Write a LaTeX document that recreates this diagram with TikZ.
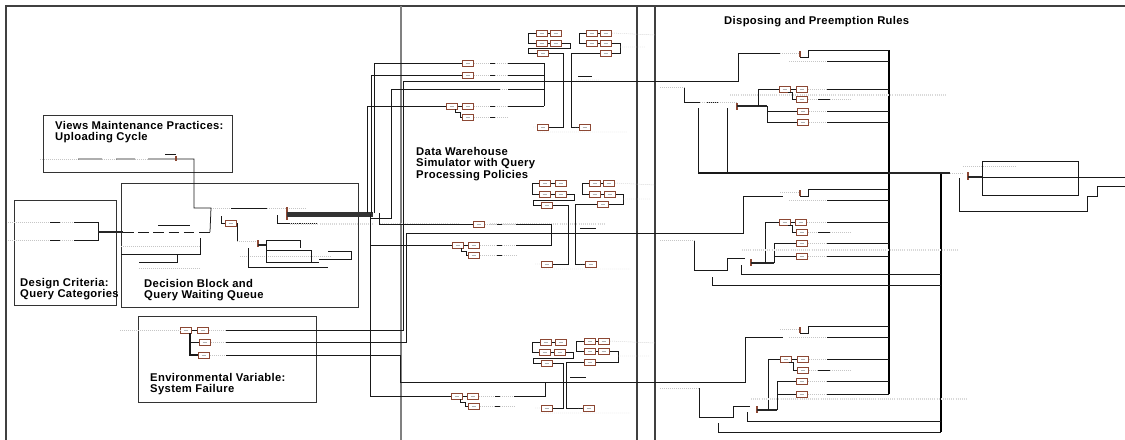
\documentclass[tikz,border=0pt]{standalone}
\usepackage{fontspec}
\setmainfont[LetterSpace=3]{Liberation Sans}
\usepackage{xcolor}
\definecolor{modbrown}{RGB}{140,72,52}
\usetikzlibrary{calc}

\begin{document}
\begin{tikzpicture}[x=0.03cm,y=-0.03cm,
  frame/.style={draw=black!75,line width=0.9pt},
  box/.style={draw=black!80,line width=0.7pt},
  mod/.style={draw=modbrown,fill=white,line width=0.85pt,minimum width=0.32cm,minimum height=0.18cm,inner sep=0pt,
    path picture={\draw[gray!60,line width=0.3pt] ([xshift=-2pt]path picture bounding box.center) -- ([xshift=2pt]path picture bounding box.center);}},
  wire/.style={black!90,line width=0.65pt},
  bus/.style={black,line width=1.6pt},
  heavy/.style={black!85,line width=1.9pt},
  trace/.style={gray!45,line width=0.4pt,dash pattern=on 0.8pt off 0.9pt},
  bars/.style={gray!30,line width=2pt,dash pattern=on 0.6pt off 1.2pt},
  tick/.style={modbrown,line width=0.9pt},
  lab/.style={font=\fontsize{9.6}{9.7}\selectfont\bfseries,align=left,anchor=north west,inner sep=0pt}]
\clip (0,0) rectangle (1125,439);

% frames and areas
\draw[frame] (6,445) -- (6,6) -- (1130,6);
\draw[frame,draw=black!50,line width=1.4pt] (401,6) -- (401,445);
\draw[frame] (637,6) -- (637,445);
\draw[frame] (655,6) -- (655,445);
\draw[box] (43,115) rectangle (232,172);
\draw[box] (14,200) rectangle (116,305);
\draw[box] (121,183) rectangle (358,307);
\draw[box] (138,316) rectangle (316,402);

\node[lab] (viewsLab) at (55,121) {Views Maintenance Practices:\\Uploading Cycle};
\node[lab] (designLab) at (20,278) {Design Criteria:\\Query Categories};
\node[lab] (decisionLab) at (144,279) {Decision Block and\\Query Waiting Queue};
\node[lab] (envLab) at (150,373) {Environmental Variable:\\System Failure};
\node[lab] (dwLab) at (416,147) {Data Warehouse\\Simulator with Query\\Processing Policies};
\node[lab] (dispLab) at (724,16) {Disposing and Preemption Rules};

% modules
\foreach \n/\x/\y in {tA1/542/33,tA2/556/33,tA3/542/43,tA4/556/43,tA5/543/53,
  tB1/592/33,tB2/606/33,tB3/592/43,tB4/606/43,tB5/606/53,tC1/543/127,tC2/585/127,
  tL1/468/63,tL2/468/75,tL3/452/106,tL4/468/106,tL5/468/117,
  mA1/545/183,mA2/561/183,mA3/545/194,mA4/561/194,mA5/547/205,
  mB1/595/183,mB2/609/183,mB3/595/194,mB4/610/194,mB5/603/204,mC1/547/264,mC2/591/264,
  mL1/479/224,mL2/458/245,mL3/474/245,mL4/474/255,
  bA1/546/342,bA2/561/342,bA3/545/352,bA4/560/352,bA5/547/363,
  bB1/590/341,bB2/604/341,bB3/590/351,bB4/604/351,bB5/590/362,bC1/547/408,bC2/589/408,
  bL1/457/396,bL2/473/396,bL3/474/406,
  dT1/785/89,dT2/802/89,dT3/802/99,dT4/803/111,dT5/803/122,
  dM1/785/222,dM2/801/222,dM3/802/232,dM4/802/243,dM5/802/256,
  dB1/786/359,dB2/803/359,dB3/803/370,dB4/802/381,dB5/802/394,
  eV1/186/330,eV2/203/330,eV3/205/342,eV4/204/355,q1/231/223}
  \node[mod] (\n) at (\x,\y) {};

% design criteria and uploading cycle
\draw[trace] (8,222) -- (50,222) (8,240) -- (50,240) (60,222) -- (74,222) (60,240) -- (74,240);
\draw[wire] (50,222) -- (60,222) (74,222) -- (98,222) -- (98,240) -- (74,240) (50,240) -- (60,240);
\draw[heavy] (98,232) -- (123,232);
\draw[wire,dash pattern=on 9pt off 4pt] (123,232) -- (210,232);
\draw[wire] (158,225) -- (190,225);
\draw[trace] (40,159) -- (78,159) (102,159) -- (116,159) (135,159) -- (148,159) (211,208) -- (231,208) (267,208) -- (305,208);
\draw[wire] (78,159) -- (102,159) (116,159) -- (135,159) (148,159) -- (194,159) -- (194,208) -- (211,208) -- (210,232);
\draw[wire] (165,154) -- (176,154) (231,208) -- (267,208);
\draw[tick] (176,156) -- (176,161);

% decision block
\draw[wire] (221,216) -- (221,223) -- (q1.west);
\draw[wire] (q1.east) -- (237,223) -- (237,241);
\draw[trace] (237,241) -- (258,241) (121,246) -- (200,246) (139,268) -- (200,268) (240,256) -- (330,256);
\draw[tick] (258,240) -- (258,247);
\draw[heavy] (258,245) -- (266,245);
\draw[wire] (266,262) -- (266,240) -- (300,240) -- (300,248);
\draw[wire] (266,250) -- (311,250) -- (311,262);
\draw[wire] (266,262) -- (319,262) (319,259) -- (351,259) -- (351,251) -- (328,251);
\draw[wire] (248,248) -- (248,267) -- (328,267);
\draw[wire] (121,254) -- (200,254) -- (200,238);
\draw[wire] (177,254) -- (177,262) -- (139,262);
\draw[tick] (287,207) -- (287,220);
\draw[line width=4.5pt,black!80] (287,214.5) -- (373,214.5);
\draw[wire] (277,215) -- (277,223) -- (318,223);
\draw[bars] (290,224) -- (373,224) (380,224) -- (460,224) (490,224) -- (605,224);

% risers from the bundle
\draw[wire] (374,213) -- (374,63) -- (tL1.west);
\draw[wire] (371,213) -- (371,75) -- (tL2.west);
\draw[wire] (367,213) -- (367,106) -- (tL3.west);
\draw[wire] (370,218) -- (391,218) -- (391,89) -- (500,89);
\draw[wire] (379,213) -- (379,224) -- (mL1.west);
\draw[wire] (370,214) -- (370,396) -- (bL1.west);
\draw[wire] (370,245) -- (mL2.west);

% environmental variable
\draw[trace] (120,330) -- (eV1.west) (eV2.east) -- (226,330) (eV3.east) -- (226,342) (eV4.east) -- (226,355);
\draw[wire] (eV1) -- (eV2);
\draw[wire,line width=0.9pt] (190,333) -- (190,355) -- (eV4.west);
\draw[wire] (190,342) -- (eV3.west);
\draw[wire] (226,330) -- (403,330) -- (403,81) -- (738,81) -- (738,53) -- (780,53);
\draw[wire] (226,342) -- (406,342) -- (406,233) -- (743,233) -- (743,196) -- (783,196);
\draw[wire] (226,355) -- (400,355) -- (400,382) -- (745,382) -- (745,337) -- (783,337);

% simulator, upper part
\draw[wire] (tA1) -- (tA2) (tA3) -- (tA4) (tB1) -- (tB2) (tB3) -- (tB4) (tL3) -- (tL4);
\draw[wire] (tA1.west) -- (528,33) -- (528,43) -- (tA3.west);
\draw[wire] (tA4.east) -- (570,43) -- (570,48) -- (528,48) -- (528,53) -- (tA5.west);
\draw[wire] (tA5.east) -- (563,53) -- (563,127) -- (tC1.east);
\draw[wire] (tB5.west) -- (571,53) -- (571,127) -- (tC2.west);
\draw[wire] (tB1.west) -- (579,33) -- (579,43) -- (tB3.west);
\draw[wire] (tB4.east) -- (620,43) -- (620,53) -- (tB5.east);
\draw[wire] (578,76) -- (592,76);
\draw[wire] (455,109) -- (455,112) -- (460,112) -- (460,117) -- (tL5.west);
\draw[trace] (tB2.east) -- (655,35) (620,47) -- (645,47) (533,127) -- (tC1.west) (575,127) -- (tC2.west) (538,132) -- (627,132) (576,80) -- (600,80);
\foreach \r/\m in {63/tL1,75/tL2,106/tL4,117/tL5} {
  \draw[trace] (\m.east) -- (490,\r) (495,\r) -- (508,\r);
  \draw[wire] (490,\r) -- (495,\r);
}
\draw[trace] (500,89) -- (508,89);
\draw[wire] (508,63) -- (544,63) (508,75) -- (544,75) (508,89) -- (544,89) (508,106) -- (544,106) (544,63) -- (544,106);

% simulator, middle part
\draw[wire] (mA1) -- (mA2) (mA3) -- (mA4) (mB1) -- (mB2) (mB3) -- (mB4) (mL2) -- (mL3);
\draw[wire] (mA1.west) -- (532,183) -- (532,194) -- (mA3.west);
\draw[wire] (mA4.east) -- (574,194) -- (574,200) -- (533,200) -- (533,205) -- (mA5.west);
\draw[wire] (mA5.east) -- (568,205) -- (568,264) -- (mC1.east);
\draw[wire] (mB5.west) -- (575,204) -- (575,264) -- (mC2.west);
\draw[wire] (mB1.west) -- (582,183) -- (582,194) -- (mB3.west);
\draw[wire] (mB4.east) -- (623,194) -- (623,204) -- (mB5.east);
\draw[wire] (580,228) -- (596,228);
\draw[wire] (461,248) -- (461,251) -- (466,251) -- (466,255) -- (mL4.west);
\draw[trace] (mB2.east) -- (655,185) (623,199) -- (650,199) (535,264) -- (mC1.west) (580,264) -- (mC2.west) (540,269) -- (630,269);
\foreach \r/\m in {224/mL1,245/mL3,255/mL4} {
  \draw[trace] (\m.east) -- (497,\r) (502,\r) -- (516,\r);
  \draw[wire] (497,\r) -- (502,\r);
}
\draw[wire] (516,224) -- (551,224) -- (551,245) -- (516,245);

% simulator, lower part
\draw[wire] (bA1) -- (bA2) (bA3) -- (bA4) (bB1) -- (bB2) (bB3) -- (bB4) (bL1) -- (bL2);
\draw[wire] (bA1.west) -- (532,342) -- (532,352) -- (bA3.west);
\draw[wire] (bA4.east) -- (573,352) -- (573,358) -- (533,358) -- (533,363) -- (bA5.west);
\draw[wire] (bA5.east) -- (563,363) -- (563,408) -- (bC1.east);
\draw[wire] (bB5.west) -- (566,362) -- (566,408) -- (bC2.west);
\draw[wire] (bB1.west) -- (576,341) -- (576,351) -- (bB3.west);
\draw[wire] (bB4.east) -- (618,351) -- (618,362) -- (bB5.east);
\draw[wire] (570,377) -- (586,377);
\draw[wire] (460,399) -- (460,402) -- (465,402) -- (465,406) -- (bL3.west);
\draw[trace] (bB2.east) -- (655,343) (618,356) -- (650,356) (535,408) -- (bC1.west) (578,408) -- (bC2.west) (540,413) -- (630,413);
\foreach \r/\m in {396/bL2,406/bL3} {
  \draw[trace] (\m.east) -- (495,\r) (500,\r) -- (514,\r);
  \draw[wire] (495,\r) -- (500,\r);
}
\draw[wire] (514,396) -- (545,396) -- (545,382);

% disposing and preemption
\draw[bus] (889,50) -- (889,394);
\draw[line width=1.2pt] (941,173) -- (941,432);
\foreach \t/\s in {0/0,139/137,276/290} {
  \draw[trace] (780,53+\t) -- (800,53+\t) (808,50+\t) -- (827,50+\t) (789,61+\t) -- (827,61+\t);
  \draw[tick] (800,51+\t) -- (800,57+\t);
  \draw[wire] (800,57+\t) -- (808,57+\t) -- (808,50+\t) -- (889,50+\t);
  \draw[wire] (827,61+\t) -- (889,61+\t);
}
% top
\draw[wire] (684,87) -- (684,102) -- (700,102) (707,102) -- (718,102);
\draw[trace] (700,102) -- (737,102) (660,87) -- (684,87);
\draw[tick] (737,103) -- (737,110);
\draw[heavy] (737,106) -- (767,106);
\draw[wire] (758,106) -- (758,89) -- (dT1.west);
\draw[wire] (767,106) -- (767,122) -- (dT5.west) (767,111) -- (dT4.west);
\draw[wire] (dT1) -- (dT2) (788,92) -- (792,92) -- (792,99) -- (dT3.west);
\draw[wire] (698,108) -- (698,173) (727,108) -- (727,173);
\draw[wire,line width=1pt] (698,173) -- (889,173);
\draw[heavy] (889,173) -- (950,173);
\draw[bars] (730,95) -- (947,95);
% middle
\draw[wire] (694,240) -- (694,270) -- (727,270) -- (727,258) -- (745,258);
\draw[trace] (660,240) -- (694,240);
\draw[tick] (751,259) -- (751,266);
\draw[heavy] (751,263) -- (774,263);
\draw[wire] (765,263) -- (765,222) -- (dM1.west);
\draw[wire] (774,263) -- (774,243) -- (dM4.west) (774,256) -- (dM5.west);
\draw[wire] (dM1) -- (dM2) (788,225) -- (792,225) -- (792,232) -- (dM3.west);
\draw[wire] (741,265) -- (741,274) -- (941,274) (712,277) -- (712,285) -- (941,285);
\draw[bars] (742,250) -- (958,250);
% bottom
\draw[wire] (699,388) -- (699,417) -- (733,417) -- (733,406) -- (750,406);
\draw[trace] (660,388) -- (699,388);
\draw[tick] (757,406) -- (757,413);
\draw[heavy] (757,410) -- (777,410);
\draw[wire] (768,410) -- (768,359) -- (dB1.west);
\draw[wire] (777,410) -- (777,381) -- (dB4.west) (777,394) -- (dB5.west);
\draw[wire] (dB1) -- (dB2) (789,362) -- (793,362) -- (793,370) -- (dB3.west);
\draw[wire] (747,412) -- (747,421) -- (941,421) (718,423) -- (718,432) -- (941,432);
\draw[bars] (751,399) -- (967,399);
% box exits to the bus
\foreach \m/\r in {dT2/89,dT4/111,dT5/122,dM2/222,dM4/243,dM5/256,dB2/359,dB4/381,dB5/394} {
  \draw[trace] (\m.east) -- (827,\r);
  \draw[wire] (827,\r) -- (889,\r);
}
\foreach \m/\r in {dT3/99,dM3/232,dB3/370} {
  \draw[trace] (\m.east) -- (818,\r) (830,\r) -- (850,\r);
  \draw[wire] (818,\r) -- (830,\r);
}

% exit
\draw[trace] (950,173) -- (962,173) (963,166) -- (1015,166);
\draw[tick] (968,172) -- (968,180);
\draw[heavy] (968,177) -- (982,177);
\draw[wire] (982,161) -- (982,195) (982,161) -- (1078,161) -- (1078,195) -- (982,195);
\draw[wire] (982,177) -- (1125,177);
\draw[wire] (959,178) -- (959,211) -- (1087,211) -- (1087,196) -- (1097,196) -- (1097,186) -- (1125,186);
\end{tikzpicture}
\end{document}
